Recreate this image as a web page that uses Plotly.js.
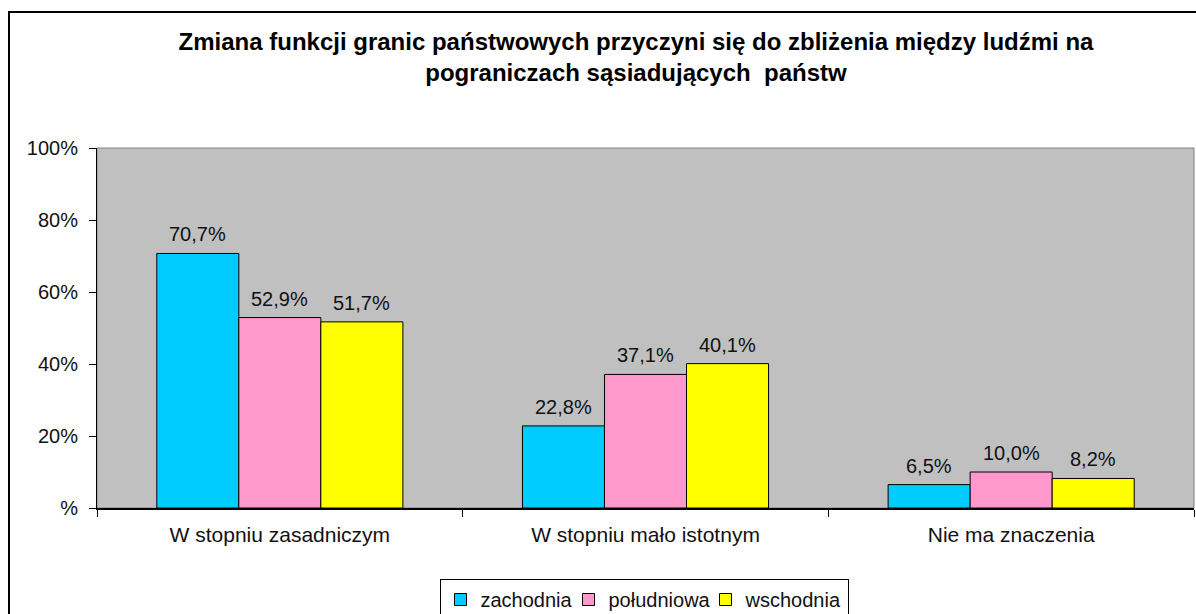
<!DOCTYPE html>
<html>
<head>
<meta charset="utf-8">
<script src="https://cdn.plot.ly/plotly-3.0.1.min.js"></script>
<style>
  html, body { margin: 0; padding: 0; background: #fff; overflow: hidden; }
  #chart { width: 1196px; height: 614px; position: relative; }
  #frame { position: absolute; left: 8px; top: 11px; width: 1200px; height: 620px;
           border: 2px solid #000; pointer-events: none; box-sizing: border-box; }
</style>
</head>
<body>
<div id="chart"></div>
<div id="frame"></div>
<script>
const categories = ["W stopniu zasadniczym", "W stopniu mało istotnym", "Nie ma znaczenia"];
const seriesNames = ["zachodnia", "południowa", "wschodnia"];
const zachodnia = [70.7, 22.8, 6.5];
const poludniowa = [52.9, 37.1, 10.0];
const wschodnia = [51.7, 40.1, 8.2];
const yTickVals = [0, 20, 40, 60, 80, 100];
const yTickText = ["%", "20%", "40%", "60%", "80%", "100%"];
const titleText = "Zmiana funkcji granic państwowych przyczyni się do zbliżenia między ludźmi na<br>pograniczach sąsiadujących  państw";

const colors = ["#00CCFF", "#FF99CC", "#FFFF00"];
const legendWidths = [83, 92, 0];
const seriesData = [zachodnia, poludniowa, wschodnia];
const FONT = "Arial, 'Liberation Sans', sans-serif";
const BARGAP = 0.327;
const barW = (1 - BARGAP) / seriesData.length;

const traces = seriesData.map((vals, i) => {
  const t = {
    type: "bar",
    name: seriesNames[i],
    x: categories,
    y: vals,
    marker: { color: colors[i], line: { color: "#000", width: 1 } },
    hoverinfo: "skip"
  };
  if (legendWidths[i]) t.legendwidth = legendWidths[i];
  return t;
});

// data labels above each bar, positioned via the category axis
const annotations = [];
seriesData.forEach((vals, i) => {
  vals.forEach((v, j) => {
    annotations.push({
      xref: "x", yref: "y",
      x: j + (i - (seriesData.length - 1) / 2) * barW,
      y: v,
      text: v.toFixed(1).replace(".", ",") + "%",
      showarrow: false,
      xanchor: "center", yanchor: "bottom",
      yshift: 6,
      font: { family: FONT, size: 20, color: "#111" }
    });
  });
});

const layout = {
  width: 1196, height: 614,
  paper_bgcolor: "#ffffff",
  plot_bgcolor: "#C0C0C0",
  separators: ",.",
  margin: { l: 97, r: 2, t: 148, b: 106, autoexpand: false },
  font: { family: FONT, size: 20, color: "#111" },
  title: {
    text: titleText,
    font: { family: FONT, size: 24, color: "#000", weight: "bold" },
    x: 636 / 1196, xref: "container", xanchor: "center",
    y: 1 - 50 / 614, yref: "container", yanchor: "middle"
  },
  barmode: "group",
  bargap: BARGAP,
  bargroupgap: 0,
  xaxis: {
    type: "category",
    automargin: false,
    showline: true, linecolor: "#000", linewidth: 2,
    ticks: "outside", tickson: "boundaries", ticklen: 7, tickcolor: "#000", tickwidth: 1,
    showgrid: false, zeroline: false,
    tickfont: { family: FONT, size: 21, color: "#111" },
    ticklabelstandoff: 7
  },
  yaxis: {
    range: [0, 100],
    automargin: false,
    tickvals: yTickVals, ticktext: yTickText,
    showline: true, linecolor: "#000", linewidth: 1,
    ticks: "outside", ticklen: 7, tickcolor: "#000", tickwidth: 1,
    showgrid: false, zeroline: false,
    tickfont: { family: FONT, size: 20, color: "#111" },
    ticklabelstandoff: 7
  },
  annotations: annotations,
  shapes: [{
    type: "rect", xref: "paper", yref: "paper", x0: 0, x1: 1, y0: 0, y1: 1,
    line: { color: "#808080", width: 1 }, fillcolor: "rgba(0,0,0,0)", layer: "below"
  }],
  showlegend: true,
  legend: {
    orientation: "h",
    x: 644 / 1196, xref: "container", xanchor: "center",
    y: 1 - 579 / 614, yref: "container", yanchor: "top",
    bordercolor: "#000", borderwidth: 1, bgcolor: "#fff",
    font: { family: FONT, size: 20, color: "#111" },
    itemwidth: 30,
    tracegroupgap: 0
  }
};

Plotly.newPlot("chart", traces, layout, { displayModeBar: false, staticPlot: true });
</script>
</body>
</html>
